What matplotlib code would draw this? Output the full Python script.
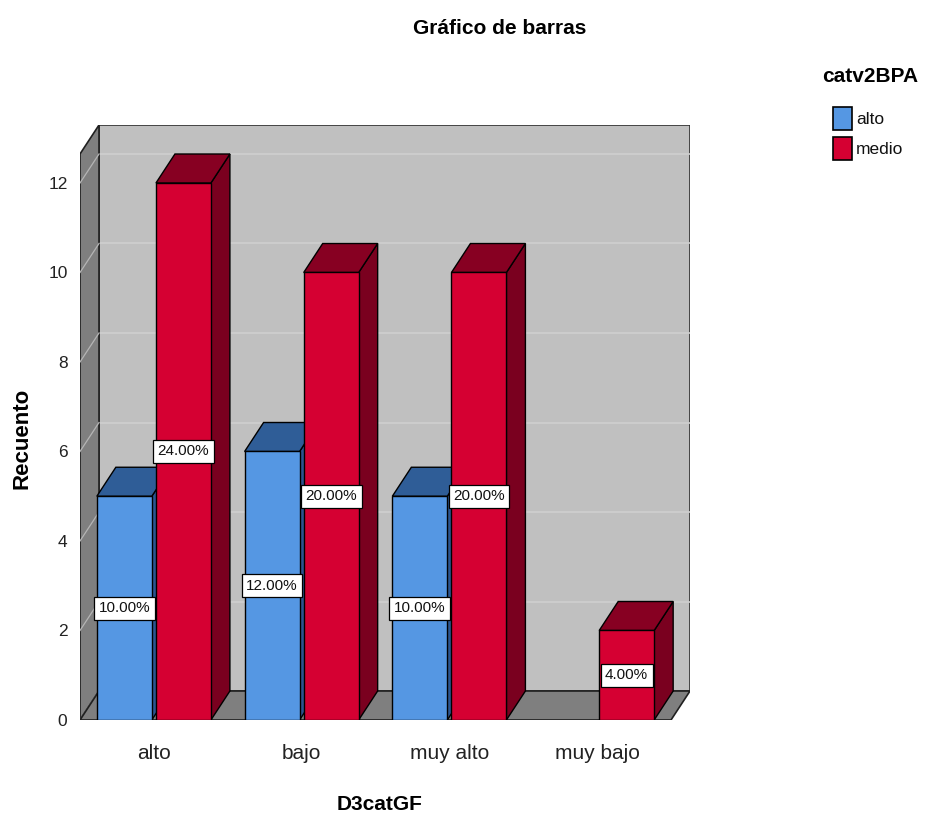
import matplotlib
matplotlib.use("Agg")
import matplotlib.pyplot as plt
from matplotlib.patches import Polygon, Rectangle

# Counts per D3catGF category, split by catv2BPA
categories = ["alto", "bajo", "muy alto", "muy bajo"]
series_names = ["alto", "medio"]
counts_alto = [5, 6, 5, 0]
counts_medio = [12, 10, 10, 2]
y_ticks = [0, 2, 4, 6, 8, 10, 12]

plt.rcParams["font.family"] = ["Liberation Sans", "DejaVu Sans"]

# face colours: front, top, side
BLUE = ("#5597e3", "#2f5d97", "#2b5590")
RED = ("#d50032", "#870022", "#7a001f")

# 3D depth offset in data units, and the front-plane extent
DX, DY = 0.1286, 0.648
X0, X1 = -0.5, 3.5
YTOP = 12.648
BAR_W = 0.372
OFFSET = 0.2

total = sum(counts_alto) + sum(counts_medio)


def poly(ax, pts, fc, ec="black", lw=1.0, z=1):
    ax.add_patch(Polygon(pts, closed=True, facecolor=fc, edgecolor=ec,
                         linewidth=lw, zorder=z, joinstyle="miter"))


def bar3d(ax, xc, h, colors, z):
    if h <= 0:
        return
    x0, x1 = xc - BAR_W / 2, xc + BAR_W / 2
    front, top, side = colors
    poly(ax, [(x1, 0), (x1 + DX, DY), (x1 + DX, h + DY), (x1, h)], side, z=z)
    poly(ax, [(x0, h), (x1, h), (x1 + DX, h + DY), (x0 + DX, h + DY)], top, z=z)
    poly(ax, [(x0, 0), (x1, 0), (x1, h), (x0, h)], front, z=z)


def value_label(ax, xc, h):
    pct = h / total * 100
    ax.text(xc, h / 2, f"{pct:.2f}%", ha="center", va="center", fontsize=11,
            zorder=50, color="#111111",
            bbox=dict(boxstyle="square,pad=0.3", fc="white", ec="black", lw=0.9))


fig = plt.figure(figsize=(9.28, 8.18), dpi=100)
ax = fig.add_axes([80 / 928, 98 / 818, 610 / 928, 595 / 818])
ax.set_xlim(X0, X1 + DX)
ax.set_ylim(0, YTOP + DY)

# walls and floor
poly(ax, [(X0 + DX, DY), (X1 + DX, DY), (X1 + DX, YTOP + DY), (X0 + DX, YTOP + DY)],
     "#c0c0c0", ec="#303030", lw=1.2, z=0)
poly(ax, [(X0, 0), (X0, YTOP), (X0 + DX, YTOP + DY), (X0 + DX, DY)],
     "#7f7f7f", ec="#202020", lw=1.2, z=0.5)
for v in y_ticks:
    if v > 0:
        ax.plot([X0 + DX, X1 + DX], [v + DY, v + DY], color="#cfcfcf",
                lw=1.2, zorder=0.3)
    ax.plot([X0, X0 + DX], [v, v + DY], color="#b5b5b5", lw=0.9, zorder=0.6)
poly(ax, [(X0, 0), (X1, 0), (X1 + DX, DY), (X0 + DX, DY)],
     "#7f7f7f", ec="#202020", lw=1.2, z=0.7)

# bars, drawn left to right so nearer faces overlap correctly
for i in range(len(categories)):
    bar3d(ax, i - OFFSET, counts_alto[i], BLUE, z=2 + i * 2)
    bar3d(ax, i + OFFSET, counts_medio[i], RED, z=3 + i * 2)
for i in range(len(categories)):
    if counts_alto[i] > 0:
        value_label(ax, i - OFFSET, counts_alto[i])
    if counts_medio[i] > 0:
        value_label(ax, i + OFFSET, counts_medio[i])

for s in ax.spines.values():
    s.set_visible(False)
ax.set_facecolor("none")
ax.set_yticks(y_ticks)
ax.set_yticklabels([str(v) for v in y_ticks], fontsize=12.5, color="#222222")
ax.set_xticks(range(len(categories)))
ax.set_xticklabels(categories, fontsize=15, color="#222222")
ax.tick_params(axis="y", length=0, pad=9)
ax.tick_params(axis="x", length=0, pad=17)

ax.set_ylabel("Recuento", fontsize=16, fontweight="bold")
ax.yaxis.set_label_coords((33 - 80) / 610, (720 - 438) / 595)
ax.set_xlabel("D3catGF", fontsize=15, fontweight="bold")
ax.xaxis.set_label_coords((380 - 80) / 610, (720 - 795) / 595)

fig.text(500 / 928, 1 - 28 / 818, "Gráfico de barras", ha="center", va="center",
         fontsize=15, fontweight="bold")

# legend, laid out in figure pixels
W, H = 928, 818
fig.text(870 / W, 1 - 77 / H, "catv2BPA", ha="center", va="center",
         fontsize=15, fontweight="bold")
for k, (name, col) in enumerate(zip(series_names, [BLUE[0], RED[0]])):
    top = 107 + k * 30
    fig.add_artist(Rectangle((833 / W, 1 - (top + 23) / H), 19 / W, 23 / H,
                             facecolor=col, edgecolor="black", lw=1.2,
                             transform=fig.transFigure))
    fig.text(856 / W, 1 - (top + 12) / H, name, ha="left", va="center",
             fontsize=12.5, color="#111111")

fig.savefig("out.png", dpi=100, facecolor="white")
